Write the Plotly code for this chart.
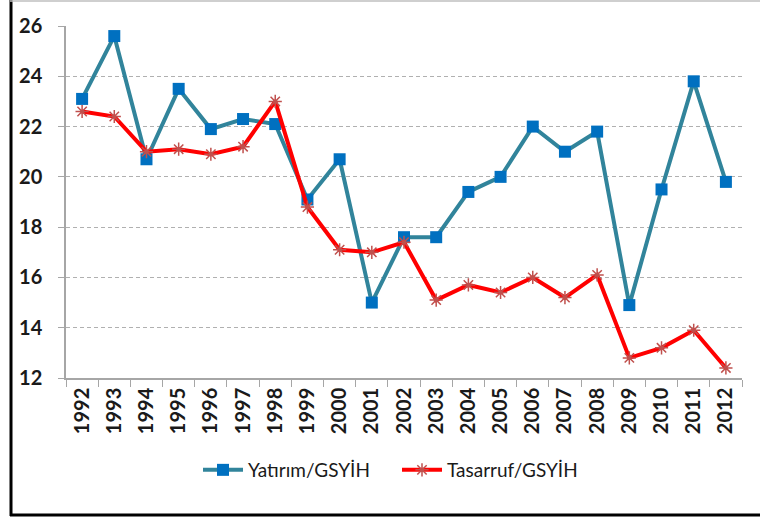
import plotly.graph_objects as go

years = [str(y) for y in range(1992, 2013)]
yatirim = [23.1, 25.6, 20.7, 23.5, 21.9, 22.3, 22.1, 19.1, 20.7, 15.0, 17.6,
           17.6, 19.4, 20.0, 22.0, 21.0, 21.8, 14.9, 19.5, 23.8, 19.8]
tasarruf = [22.6, 22.4, 21.0, 21.1, 20.9, 21.2, 23.0, 18.8, 17.1, 17.0, 17.4,
            15.1, 15.7, 15.4, 16.0, 15.2, 16.1, 12.8, 13.2, 13.9, 12.4]
y_ticks = [12, 14, 16, 18, 20, 22, 24, 26]

W, H = 760, 520
ml, mr, mt, mb = 66, 18, 26, 142
pw, ph = W - ml - mr, H - mt - mb

def px(x):
    return (x - ml) / pw

def py(y):
    return (H - mb - y) / ph

fig = go.Figure()
fig.add_trace(go.Scatter(
    x=years, y=yatirim, name="Yatırım/GSYİH", mode="lines+markers",
    line=dict(color="#31849B", width=4),
    marker=dict(symbol="square", size=12, color="#0070C0"),
))
fig.add_trace(go.Scatter(
    x=years, y=tasarruf, name="Tasarruf/GSYİH", mode="lines+markers",
    line=dict(color="#FF0000", width=4),
    marker=dict(symbol="asterisk", size=11, color="#C0504D",
                line=dict(color="#C0504D", width=1.5)),
))

fig.update_layout(
    width=W, height=H,
    margin=dict(l=ml, r=mr, t=mt, b=mb),
    paper_bgcolor="white", plot_bgcolor="white",
    font=dict(family="Lato, Open Sans, sans-serif", color="#1a1a1a"),
    showlegend=True,
    legend=dict(orientation="h", x=px(198), xanchor="left", y=py(470), yanchor="middle",
                font=dict(size=19, color="#1a1a1a"), itemwidth=40,
                entrywidth=144, entrywidthmode="pixels",
                tracegroupgap=0, traceorder="normal"),
    xaxis=dict(type="category", tickson="boundaries", ticks="outside", ticklen=7,
               tickcolor="#A6A6A6", showline=True, linecolor="#A6A6A6", linewidth=1.5,
               showgrid=False, tickangle=-90,
               tickfont=dict(size=20, weight="bold", color="#1a1a1a"),
               range=[-0.5, 20.5]),
    yaxis=dict(range=[12, 26], tickvals=y_ticks, ticks="outside", ticklen=6,
               tickcolor="#A6A6A6", showline=True, linecolor="#A6A6A6", linewidth=1.5,
               showgrid=True, gridcolor="#B0B0B0", griddash="4px,3px", gridwidth=1.2,
               zeroline=False, ticklabelstandoff=12,
               tickfont=dict(size=20, weight="bold", color="#1a1a1a")),
    shapes=[
        dict(type="line", xref="paper", yref="paper", x0=px(11), x1=px(11),
             y0=py(0), y1=py(516), line=dict(color="black", width=3)),
        dict(type="line", xref="paper", yref="paper", x0=px(10), x1=px(760),
             y0=py(515), y1=py(515), line=dict(color="black", width=3)),
        dict(type="line", xref="paper", yref="paper", x0=px(10), x1=px(760),
             y0=py(1), y1=py(1), line=dict(color="#BFBFBF", width=1.5)),
    ],
)

fig.write_html("out.html", config={"displayModeBar": False},
               post_script="document.body.style.margin='0px';")
